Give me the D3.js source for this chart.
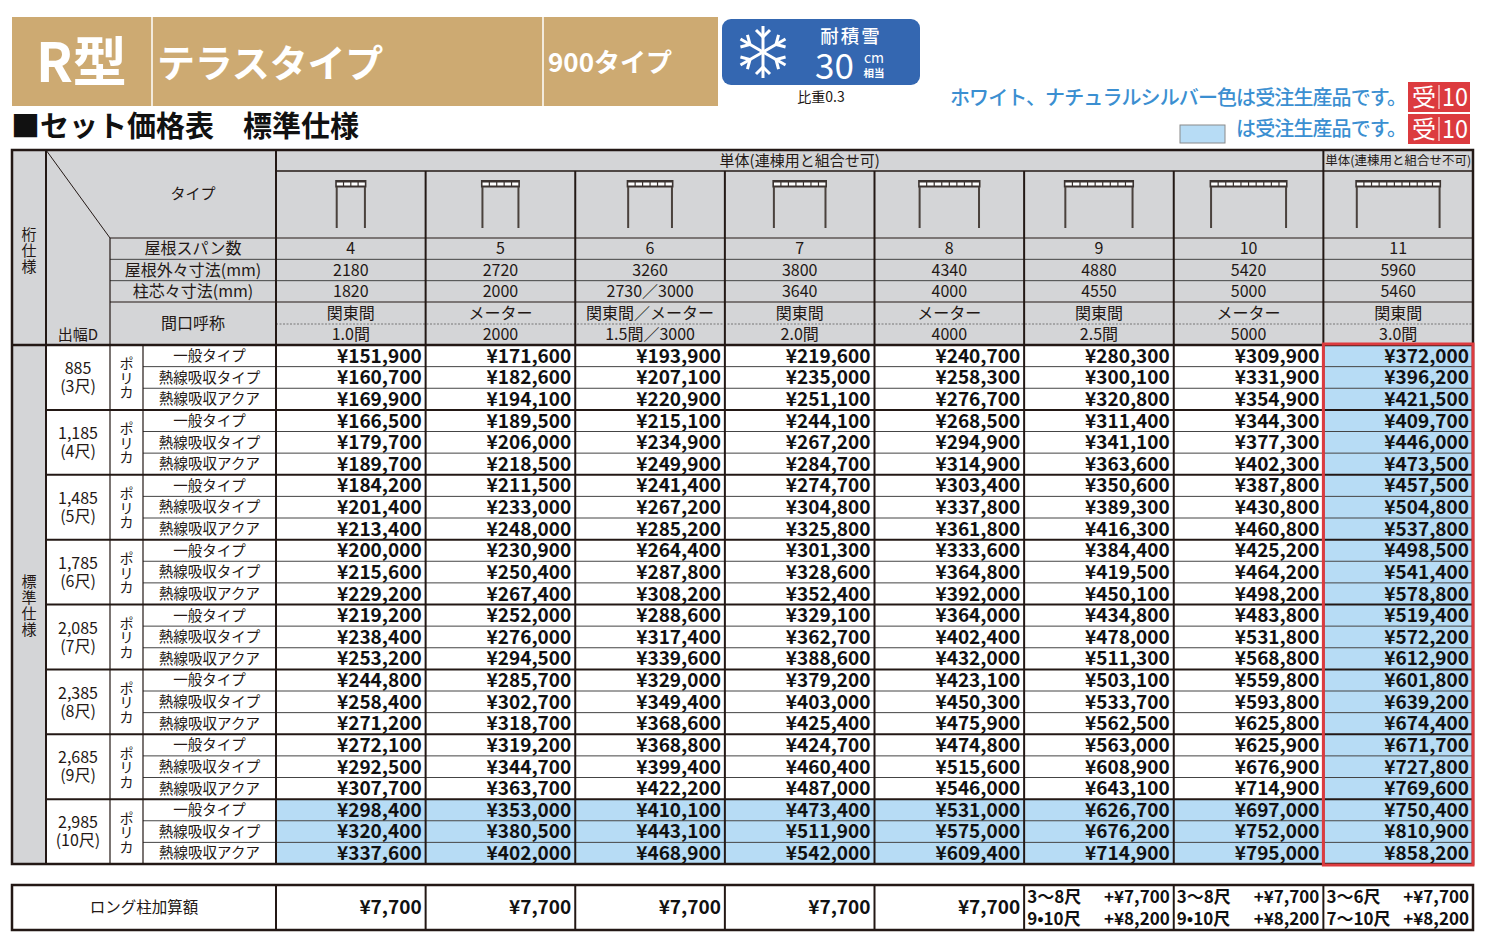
<!DOCTYPE html>
<html>
<head>
<meta charset="utf-8">
<script src="https://cdn.jsdelivr.net/npm/d3@7"></script>
<style>
  body { margin: 0; background: #fff; }
  svg { display: block; font-family: "Noto Sans CJK JP", "Noto Sans", sans-serif; }
</style>
</head>
<body>
<div id="chart"></div>
<script>
// ---- data ----
const spans = [4, 5, 6, 7, 8, 9, 10, 11];
const outerSize = ["2180", "2720", "3260", "3800", "4340", "4880", "5420", "5960"];
const postPitch = ["1820", "2000", "2730／3000", "3640", "4000", "4550", "5000", "5460"];
const nameTop = ["関東間", "メーター", "関東間／メーター", "関東間", "メーター", "関東間", "メーター", "関東間"];
const nameBottom = ["1.0間", "2000", "1.5間／3000", "2.0間", "4000", "2.5間", "5000", "3.0間"];

const depths = ["885", "1,185", "1,485", "1,785", "2,085", "2,385", "2,685", "2,985"];
const shaku = ["(3尺)", "(4尺)", "(5尺)", "(6尺)", "(7尺)", "(8尺)", "(9尺)", "(10尺)"];
const roofTypes = ["一般タイプ", "熱線吸収タイプ", "熱線吸収アクア"];

// one row per depth x roof type, one value per span column
const prices = [
  [151900, 171600, 193900, 219600, 240700, 280300, 309900, 372000],
  [160700, 182600, 207100, 235000, 258300, 300100, 331900, 396200],
  [169900, 194100, 220900, 251100, 276700, 320800, 354900, 421500],
  [166500, 189500, 215100, 244100, 268500, 311400, 344300, 409700],
  [179700, 206000, 234900, 267200, 294900, 341100, 377300, 446000],
  [189700, 218500, 249900, 284700, 314900, 363600, 402300, 473500],
  [184200, 211500, 241400, 274700, 303400, 350600, 387800, 457500],
  [201400, 233000, 267200, 304800, 337800, 389300, 430800, 504800],
  [213400, 248000, 285200, 325800, 361800, 416300, 460800, 537800],
  [200000, 230900, 264400, 301300, 333600, 384400, 425200, 498500],
  [215600, 250400, 287800, 328600, 364800, 419500, 464200, 541400],
  [229200, 267400, 308200, 352400, 392000, 450100, 498200, 578800],
  [219200, 252000, 288600, 329100, 364000, 434800, 483800, 519400],
  [238400, 276000, 317400, 362700, 402400, 478000, 531800, 572200],
  [253200, 294500, 339600, 388600, 432000, 511300, 568800, 612900],
  [244800, 285700, 329000, 379200, 423100, 503100, 559800, 601800],
  [258400, 302700, 349400, 403000, 450300, 533700, 593800, 639200],
  [271200, 318700, 368600, 425400, 475900, 562500, 625800, 674400],
  [272100, 319200, 368800, 424700, 474800, 563000, 625900, 671700],
  [292500, 344700, 399400, 460400, 515600, 608900, 676900, 727800],
  [307700, 363700, 422200, 487000, 546000, 643100, 714900, 769600],
  [298400, 353000, 410100, 473400, 531000, 626700, 697000, 750400],
  [320400, 380500, 443100, 511900, 575000, 676200, 752000, 810900],
  [337600, 402000, 468900, 542000, 609400, 714900, 795000, 858200],
];

// long post surcharge: single amount, or two [range, amount] lines
const longPost = [
  "¥7,700", "¥7,700", "¥7,700", "¥7,700", "¥7,700",
  [["3〜8尺", "+¥7,700"], ["9•10尺", "+¥8,200"]],
  [["3〜8尺", "+¥7,700"], ["9•10尺", "+¥8,200"]],
  [["3〜6尺", "+¥7,700"], ["7〜10尺", "+¥8,200"]],
];

// ---- layout ----
const width = 1490;
const height = 940;
const ink = "#231815";
const gray = "#d4d5d7";
const blue = "#b7dcf5";
const red = "#dc3b3f";
const noteBlue = "#3b8fd1";
const tan = "#cdaa72";

const L = 12, R = 1473;
const colA = 46, colB = 110, colC = 143, colD = 276;
const headTop = 150, headMid = 171, headIcon = 238, headName = 302, headBottom = 345;
const bodyBottom = 864;

const yen = (v) => "¥" + d3.format(",")(v);

const x = d3.scaleBand().domain(d3.range(spans.length)).range([colD, R]);
const y = d3.scaleBand().domain(d3.range(prices.length)).range([headBottom, bodyBottom]);
const yHead = d3.scaleBand().domain([0, 1, 2]).range([headIcon, headName]);
const bw = x.bandwidth();
const rh = y.bandwidth();

const svg = d3.create("svg").attr("width", width).attr("height", height);

// ---- title block ----
const title = svg.append("g");
title.append("rect").attr("x", L).attr("y", 17).attr("width", 706).attr("height", 89).attr("fill", tan);
title.selectAll("line.div").data([152, 543]).join("line")
  .attr("x1", (d) => d).attr("x2", (d) => d).attr("y1", 17).attr("y2", 106)
  .attr("stroke", "#fff").attr("stroke-width", 1.5);
title.append("text").attr("x", 36).attr("y", 82).attr("fill", "#fff")
  .attr("font-size", 54).attr("font-weight", 700).text("R型");
title.append("text").attr("x", 157).attr("y", 77).attr("fill", "#fff")
  .attr("font-size", 38).attr("font-weight", 700).attr("letter-spacing", -0.2).text("テラスタイプ");
title.append("text").attr("x", 548).attr("y", 72).attr("fill", "#fff")
  .attr("font-size", 26).attr("font-weight", 700).text("900タイプ");

// snow load badge
const badge = svg.append("g");
badge.append("rect").attr("x", 722).attr("y", 19).attr("width", 198).attr("height", 66)
  .attr("rx", 9).attr("fill", "#3467b1");
const flake = badge.append("g").attr("transform", "translate(763,52)")
  .attr("stroke", "#fff").attr("stroke-width", 3).attr("fill", "none");
d3.range(6).forEach((k) => {
  const arm = flake.append("g").attr("transform", `rotate(${k * 60})`);
  arm.append("line").attr("x1", 0).attr("y1", 0).attr("x2", 0).attr("y2", -26);
  arm.append("path").attr("d", "M-7,-22 L0,-15 L7,-22");
});
badge.append("text").attr("x", 851).attr("y", 43).attr("fill", "#fff").attr("text-anchor", "middle")
  .attr("font-size", 18.5).attr("font-weight", 500).attr("letter-spacing", 2).text("耐積雪");
badge.append("text").attr("x", 815).attr("y", 79).attr("fill", "#fff")
  .attr("font-size", 35).text("30");
badge.append("text").attr("x", 874).attr("y", 63).attr("fill", "#fff").attr("text-anchor", "middle")
  .attr("font-size", 14).text("cm");
badge.append("text").attr("x", 874).attr("y", 77).attr("fill", "#fff").attr("text-anchor", "middle")
  .attr("font-size", 10.5).attr("font-weight", 700).text("相当");
svg.append("text").attr("x", 821).attr("y", 102).attr("text-anchor", "middle")
  .attr("font-size", 14).attr("fill", ink).text("比重0.3");

// notes on the right
function orderBadge(y0) {
  const g = svg.append("g");
  g.append("rect").attr("x", 1408).attr("y", y0).attr("width", 62).attr("height", 30).attr("fill", red);
  g.append("line").attr("x1", 1439).attr("x2", 1439).attr("y1", y0 + 3).attr("y2", y0 + 27)
    .attr("stroke", "#fff").attr("stroke-width", 1);
  g.append("text").attr("x", 1424).attr("y", y0 + 24).attr("text-anchor", "middle")
    .attr("fill", "#fff").attr("font-size", 24).text("受");
  g.append("text").attr("x", 1455).attr("y", y0 + 24).attr("text-anchor", "middle")
    .attr("fill", "#fff").attr("font-size", 25).attr("textLength", 26).attr("lengthAdjust", "spacingAndGlyphs").text("10");
}
svg.append("text").attr("x", 1406).attr("y", 105).attr("text-anchor", "end")
  .attr("fill", noteBlue).attr("font-size", 20).attr("font-weight", 500).attr("letter-spacing", -0.9)
  .text("ホワイト、ナチュラルシルバー色は受注生産品です。");
orderBadge(82);
svg.append("rect").attr("x", 1180).attr("y", 125).attr("width", 45).attr("height", 18)
  .attr("fill", blue).attr("stroke", "#8a8a8a").attr("stroke-width", 1);
svg.append("text").attr("x", 1406).attr("y", 136).attr("text-anchor", "end")
  .attr("fill", noteBlue).attr("font-size", 20).attr("font-weight", 500).attr("letter-spacing", -0.9)
  .text("は受注生産品です。");
orderBadge(114);

svg.append("text").attr("x", 11).attr("y", 137).attr("fill", "#111")
  .attr("font-size", 29).attr("font-weight", 700).text("■セット価格表　標準仕様");

// ---- table backgrounds ----
const table = svg.append("g");
table.append("rect").attr("x", L).attr("y", headTop).attr("width", R - L).attr("height", headBottom - headTop).attr("fill", gray);
table.append("rect").attr("x", L).attr("y", headBottom).attr("width", colA - L).attr("height", bodyBottom - headBottom).attr("fill", gray);

const cells = [];
prices.forEach((row, r) => row.forEach((v, c) => cells.push({ r, c, v })));
const isOrder = (d) => d.c === spans.length - 1 || Math.floor(d.r / 3) === depths.length - 1;

table.selectAll("rect.cell").data(cells).join("rect")
  .attr("class", "cell")
  .attr("x", (d) => x(d.c)).attr("y", (d) => y(d.r))
  .attr("width", bw).attr("height", rh)
  .attr("fill", (d) => (isOrder(d) ? blue : "#fff"));

// ---- header texts ----
const headText = table.append("g").attr("fill", ink).attr("text-anchor", "middle");
headText.append("text").attr("x", (colD + x(7)) / 2).attr("y", 166).attr("font-size", 15)
  .text("単体(連棟用と組合せ可)");
headText.append("text").attr("x", x(7) + bw / 2).attr("y", 165).attr("font-size", 12.5)
  .text("単体(連棟用と組合せ不可)");

// vertical (top-to-bottom) label
function vertical(g, cx, cy, str, size, gap) {
  g.append("text")
    .attr("x", cx).attr("y", cy)
    .attr("writing-mode", "vertical-rl")
    .attr("text-anchor", "middle")
    .attr("font-size", size).attr("letter-spacing", gap).attr("fill", ink)
    .text(str);
}
vertical(headText, (L + colA) / 2, 251, "桁仕様", 15, 1);
vertical(headText, (L + colA) / 2, 606, "標準仕様", 15, 1);

headText.append("text").attr("x", 193).attr("y", 199).attr("font-size", 15).text("タイプ");
headText.append("text").attr("x", 78).attr("y", 340).attr("font-size", 15).text("出幅D");

const headRows = [
  { label: "屋根スパン数", values: spans },
  { label: "屋根外々寸法(mm)", values: outerSize },
  { label: "柱芯々寸法(mm)", values: postPitch },
];
headRows.forEach((row, i) => {
  const cy = yHead(i) + yHead.bandwidth() / 2;
  headText.append("text").attr("x", (colB + colD) / 2).attr("y", cy).attr("dy", "0.36em")
    .attr("font-size", 16).text(row.label);
  headText.selectAll(null).data(row.values).join("text")
    .attr("x", (d, c) => x(c) + bw / 2).attr("y", cy).attr("dy", "0.36em")
    .attr("font-size", 16).text((d) => d);
});
headText.append("text").attr("x", (colB + colD) / 2).attr("y", 323).attr("dy", "0.36em")
  .attr("font-size", 16).text("間口呼称");
headText.selectAll(null).data(nameTop).join("text")
  .attr("x", (d, c) => x(c) + bw / 2).attr("y", 313).attr("dy", "0.36em")
  .attr("font-size", 16).text((d) => d);
headText.selectAll(null).data(nameBottom).join("text")
  .attr("x", (d, c) => x(c) + bw / 2).attr("y", 334.5).attr("dy", "0.36em")
  .attr("font-size", 16).text((d) => d);

// frame icons: roof bar divided by span count, two posts
const icons = table.append("g");
spans.forEach((n, c) => {
  const cx = x(c) + bw / 2;
  const rw = n * 7.8;
  const g = icons.append("g");
  g.append("rect").attr("x", cx - rw / 2).attr("y", 180).attr("width", rw).attr("height", 7.5).attr("fill", "#3b3330");
  const cw = (rw - 2) / n;
  g.selectAll(null).data(d3.range(n)).join("rect")
    .attr("x", (k) => cx - rw / 2 + 1 + k * cw + 0.6).attr("y", 182.5)
    .attr("width", cw - 1.2).attr("height", 3).attr("fill", "#fff");
  g.selectAll(null).data([cx - rw / 2 + 0.5, cx + rw / 2 - 2.5]).join("rect")
    .attr("x", (d) => d).attr("y", 187).attr("width", 2).attr("height", 41).attr("fill", "#4a423d");
});

// ---- body texts ----
const body = table.append("g").attr("fill", ink);
body.selectAll("text.price").data(cells).join("text")
  .attr("class", "price")
  .attr("x", (d) => x(d.c) + bw - 4).attr("y", (d) => y(d.r) + rh / 2).attr("dy", "0.36em")
  .attr("text-anchor", "end").attr("font-size", 19).attr("font-weight", 700).attr("fill", "#111")
  .text((d) => yen(d.v));

body.selectAll("text.type").data(d3.range(prices.length)).join("text")
  .attr("class", "type")
  .attr("x", (colC + colD) / 2).attr("y", (r) => y(r) + rh / 2).attr("dy", "0.36em")
  .attr("text-anchor", "middle").attr("font-size", 14.5)
  .text((r) => roofTypes[r % 3]);

depths.forEach((d, g) => {
  const cy = y(g * 3) + rh * 1.5;
  body.append("text").attr("x", (colA + colB) / 2).attr("y", cy - 9).attr("dy", "0.36em")
    .attr("text-anchor", "middle").attr("font-size", 16).text(d);
  body.append("text").attr("x", (colA + colB) / 2).attr("y", cy + 9).attr("dy", "0.36em")
    .attr("text-anchor", "middle").attr("font-size", 16).text(shaku[g]);
  vertical(body, (colB + colC) / 2, cy + 1, "ポリカ", 14.5, 0);
});

// ---- grid lines ----
const grid = table.append("g").attr("stroke", ink).attr("fill", "none");
const hl = (x1, x2, yy, w, col) => grid.append("line").attr("x1", x1).attr("x2", x2)
  .attr("y1", yy).attr("y2", yy).attr("stroke-width", w).attr("stroke", col || ink);
const vl = (xx, y1, y2, w, col) => grid.append("line").attr("x1", xx).attr("x2", xx)
  .attr("y1", y1).attr("y2", y2).attr("stroke-width", w).attr("stroke", col || ink);

// header
hl(colD, R, headMid, 1.5);
hl(colB, R, headIcon, 1.2);
[1, 2].forEach((i) => hl(colB, R, yHead(i), 1, "#444"));
hl(colB, R, headName, 1.2);
grid.append("line").attr("x1", colD).attr("x2", R).attr("y1", 324).attr("y2", 324)
  .attr("stroke", "#777").attr("stroke-width", 1).attr("stroke-dasharray", "2,1.5");
grid.append("line").attr("x1", colA).attr("y1", headTop).attr("x2", colB).attr("y2", headIcon)
  .attr("stroke-width", 1);

// body rows
d3.range(1, prices.length).forEach((r) => {
  if (r % 3 === 0) hl(colA, R, y(r), 2);
  else hl(colC, R, y(r), 1, "#444");
});
hl(L, R, headBottom, 2.5);

// verticals
vl(colA, headTop, bodyBottom, 2);
vl(colB, headIcon, bodyBottom, 1.2);
vl(colC, headBottom, bodyBottom, 1.2);
vl(colD, headTop, bodyBottom, 2);
d3.range(1, spans.length).forEach((c) => vl(x(c), c === 7 ? headTop : headMid, bodyBottom, 2));

// outer border and made-to-order frame
grid.append("rect").attr("x", L).attr("y", headTop).attr("width", R - L).attr("height", bodyBottom - headTop)
  .attr("stroke-width", 2.5);
grid.append("rect").attr("x", x(7)).attr("y", headBottom - 1).attr("width", R - x(7)).attr("height", bodyBottom - headBottom + 2)
  .attr("stroke", red).attr("stroke-width", 3);

// ---- long post surcharge table ----
const lt = 885, lb = 930;
const lp = svg.append("g");
lp.append("rect").attr("x", L).attr("y", lt).attr("width", R - L).attr("height", lb - lt).attr("fill", "#fff");
lp.append("text").attr("x", (L + colD) / 2).attr("y", (lt + lb) / 2).attr("dy", "0.36em")
  .attr("text-anchor", "middle").attr("font-size", 15.5).attr("fill", ink).text("ロング柱加算額");
longPost.forEach((d, c) => {
  if (typeof d === "string") {
    lp.append("text").attr("x", x(c) + bw - 4).attr("y", (lt + lb) / 2).attr("dy", "0.36em")
      .attr("text-anchor", "end").attr("font-size", 19).attr("font-weight", 700).attr("fill", "#111").text(d);
  } else {
    d.forEach((line, k) => {
      const yy = lt + 11.5 + k * 22;
      lp.append("text").attr("x", x(c) + 3).attr("y", yy).attr("dy", "0.36em")
        .attr("font-size", 17).attr("font-weight", 700).attr("fill", "#111").text(line[0]);
      lp.append("text").attr("x", x(c) + bw - 4).attr("y", yy).attr("dy", "0.36em")
        .attr("text-anchor", "end").attr("font-size", 17).attr("font-weight", 700).attr("fill", "#111").text(line[1]);
    });
  }
});
lp.selectAll("line").data([colD].concat(d3.range(1, spans.length).map((c) => x(c)))).join("line")
  .attr("x1", (d) => d).attr("x2", (d) => d).attr("y1", lt).attr("y2", lb)
  .attr("stroke", ink).attr("stroke-width", 2);
lp.append("rect").attr("x", L).attr("y", lt).attr("width", R - L).attr("height", lb - lt)
  .attr("fill", "none").attr("stroke", ink).attr("stroke-width", 2.5);

d3.select("#chart").node().appendChild(svg.node());
</script>
</body>
</html>
